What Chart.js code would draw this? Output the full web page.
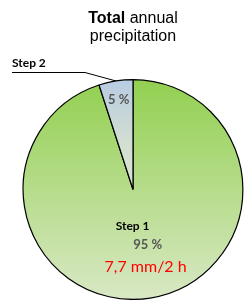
<!DOCTYPE html>
<html>
<head>
<meta charset="utf-8">
<script src="https://cdn.jsdelivr.net/npm/chart.js@4"></script>
<style>
  html, body { margin: 0; padding: 0; background: #fff; }
  #wrap { width: 244px; height: 300px; position: relative; }
</style>
</head>
<body>
<div id="wrap"><canvas id="pieChart"></canvas></div>
<script>
const stepLabels = ["Step 1", "Step 2"];
const stepShares = [95, 5];
const shareLabels = ["95 %", "5 %"];
const amountNote = "7,7 mm/2 h";

// title drawn by hand so "Total" can be bold
const titlePlugin = {
  id: "mixedTitle",
  afterDraw(chart) {
    const ctx = chart.ctx;
    ctx.save();
    ctx.fillStyle = "#000";
    ctx.textBaseline = "alphabetic";
    ctx.font = "bold 16px 'Liberation Sans', Arial";
    const w1 = ctx.measureText("Total").width;
    ctx.font = "16px 'Liberation Sans', Arial";
    const w2 = ctx.measureText(" annual").width;
    let x = 133 - (w1 + w2) / 2;
    ctx.font = "bold 16px 'Liberation Sans', Arial";
    ctx.fillText("Total", x, 23);
    ctx.font = "16px 'Liberation Sans', Arial";
    ctx.fillText(" annual", x + w1, 23);
    ctx.textAlign = "center";
    ctx.fillText("precipitation", 133, 41);
    ctx.restore();
  }
};

const labelPlugin = {
  id: "sliceLabels",
  afterDatasetsDraw(chart) {
    const ctx = chart.ctx;
    const arcs = chart.getDatasetMeta(0).data;
    ctx.save();
    ctx.textAlign = "center";
    ctx.textBaseline = "middle";

    // Step 1 inside slice
    const a0 = arcs[0].getProps(["x", "y", "startAngle", "endAngle", "outerRadius"], true);
    const m0 = (a0.startAngle + a0.endAngle) / 2;
    const px = a0.x + Math.cos(m0) * a0.outerRadius * 0.5;
    const py = a0.y + Math.sin(m0) * a0.outerRadius * 0.5;
    ctx.fillStyle = "#000";
    ctx.font = "bold 12px Lato";
    ctx.fillText(stepLabels[0], px - 9, py - 18);
    ctx.fillStyle = "#555";
    ctx.font = "bold 13px Lato";
    ctx.fillText(shareLabels[0], px + 6, py + 1);
    ctx.fillStyle = "#ff0000";
    ctx.font = "16px Lato";
    ctx.fillText(amountNote, px + 4, py + 23);

    // Step 2 share inside small slice
    const a1 = arcs[1].getProps(["x", "y", "startAngle", "endAngle", "outerRadius"], true);
    const m1 = (a1.startAngle + a1.endAngle) / 2;
    ctx.fillStyle = "#555";
    ctx.font = "bold 13px Lato";
    ctx.fillText(shareLabels[1], a1.x + Math.cos(m1) * a1.outerRadius * 0.83,
                 a1.y + Math.sin(m1) * a1.outerRadius * 0.83);

    // leader line to Step 2 label
    const ex = a1.x + Math.cos(m1) * a1.outerRadius;
    const ey = a1.y + Math.sin(m1) * a1.outerRadius;
    ctx.strokeStyle = "#000";
    ctx.lineWidth = 1;
    ctx.beginPath();
    ctx.moveTo(ex, ey);
    ctx.lineTo(85, 72.5);
    ctx.lineTo(12, 72.5);
    ctx.stroke();
    ctx.fillStyle = "#000";
    ctx.font = "bold 12px Lato";
    ctx.textAlign = "left";
    ctx.textBaseline = "alphabetic";
    ctx.fillText(stepLabels[1], 12, 67);
    ctx.restore();
  }
};

function sliceFill(context) {
  const chart = context.chart;
  const area = chart.chartArea;
  if (!area) return "#92d050";
  const g = chart.ctx.createLinearGradient(0, area.top, 0, area.bottom);
  if (context.dataIndex === 0) {
    g.addColorStop(0, "#92d050");
    g.addColorStop(1, "#d9e8c5");
  } else {
    g.addColorStop(0, "#b8cce4");
    g.addColorStop(0.3, "#d3dfd0");
    g.addColorStop(1, "#e4ecd8");
  }
  return g;
}

new Chart("pieChart", {
  type: "pie",
  data: {
    labels: stepLabels,
    datasets: [{
      data: stepShares,
      backgroundColor: sliceFill,
      borderColor: "#000",
      borderWidth: 1.2
    }]
  },
  options: {
    responsive: true,
    maintainAspectRatio: false,
    animation: false,
    layout: { padding: { top: 79, bottom: -1, left: 22, right: 0 } },
    plugins: {
      legend: { display: false },
      tooltip: { enabled: false },
      title: { display: false }
    }
  },
  plugins: [titlePlugin, labelPlugin]
});
</script>
</body>
</html>
